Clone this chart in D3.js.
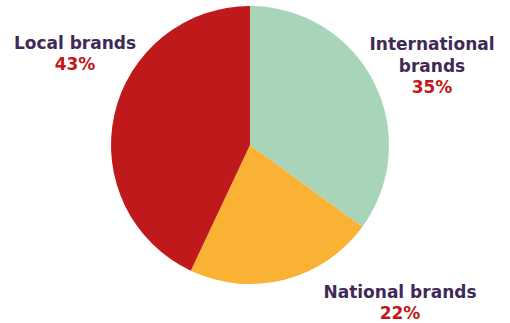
<!DOCTYPE html>
<html>
<head>
<meta charset="utf-8">
<script src="https://cdn.jsdelivr.net/npm/d3@7"></script>
<style>
  html, body { margin: 0; padding: 0; background: #fff; }
  svg { display: block; }
</style>
</head>
<body>
<svg id="chart" width="510" height="323"></svg>
<script>
/* ── Data ─────────────────────────────────────────────── */
const categories = ['International brands', 'National brands', 'Local brands'];
const shares     = [35, 22, 43];
const colors     = ['#a8d5ba', '#f9b233', '#c0191b'];

// label lines and anchor positions (center x, first baseline y)
const labelLines = [['International', 'brands'], ['National brands'], ['Local brands']];
const labelPos   = [[432, 50], [400, 298], [75, 49]];

/* ── Pie ──────────────────────────────────────────────── */
const svg = d3.select('#chart');
const cx = 250, cy = 145, R = 139;

const pie = d3.pie().sort(null).value(d => d)(shares);
const arc = d3.arc().innerRadius(0).outerRadius(R);

svg.append('g')
  .attr('transform', `translate(${cx},${cy})`)
  .selectAll('path')
  .data(pie).join('path')
  .attr('d', arc)
  .attr('fill', (d, i) => colors[i]);

/* ── Labels ───────────────────────────────────────────── */
const font = 'Verdana, "DejaVu Sans", sans-serif';
categories.forEach((c, i) => {
  const [x, y] = labelPos[i];
  const t = svg.append('text')
    .attr('x', x).attr('y', y)
    .attr('text-anchor', 'middle')
    .style('font-family', font)
    .style('font-weight', 'bold')
    .style('font-size', '17px');
  labelLines[i].forEach((ln, j) => {
    t.append('tspan').attr('x', x).attr('dy', j ? 22 : 0)
      .attr('fill', '#3f2a56').text(ln);
  });
  t.append('tspan').attr('x', x).attr('dy', 21)
    .attr('fill', '#c0191b').text(shares[i] + '%');
});
</script>
</body>
</html>
